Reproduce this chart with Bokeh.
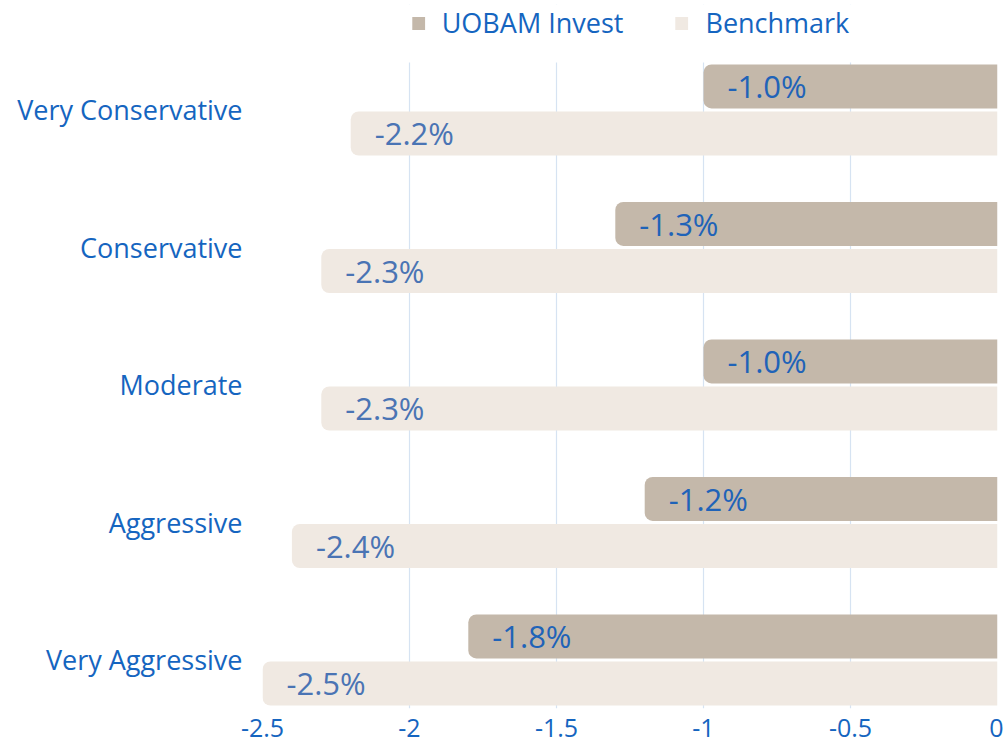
from bokeh.plotting import figure
from bokeh.models import (ColumnDataSource, Range1d, Legend, LegendItem, FixedTicker,
                          BoxAnnotation)
from bokeh.core.properties import value
from bokeh.embed import file_html
from bokeh.resources import INLINE

categories = ["Very Conservative", "Conservative", "Moderate", "Aggressive", "Very Aggressive"]
uobam = [-1.0, -1.3, -1.0, -1.2, -1.8]
benchmark = [-2.2, -2.3, -2.3, -2.4, -2.5]
x_ticks = [-2.5, -2.0, -1.5, -1.0, -0.5, 0.0]
x_tick_labels = ["-2.5", "-2", "-1.5", "-1", "-0.5", "0"]

FONT = "Open Sans"
BLUE = "#1565c0"
LBL_U = "#1f63b8"
LBL_B = "#4a74b4"
C_UOB = "#c4b8aa"
C_BEN = "#f0e9e2"

n = len(categories)
pos = [n - 1 - i for i in range(n)]   # first category at the top
OFF = 0.171   # half distance between the two bars of a group
H = 0.32      # bar thickness

src = ColumnDataSource(dict(
    pos=pos,
    y_u=[v + OFF for v in pos],
    y_b=[v - OFF for v in pos],
    uob=uobam,
    ben=benchmark,
    uob_lbl=[f"{v:.1f}%" for v in uobam],
    ben_lbl=[f"{v:.1f}%" for v in benchmark],
    zero=[0.0] * n,
))

p = figure(frame_width=735, frame_height=704,
           y_range=Range1d(-0.353, n - 1 + 0.767), x_range=Range1d(-2.5, 0),
           output_backend="svg", toolbar_location=None,
           min_border_left=262, min_border_right=6, min_border_top=4, min_border_bottom=36)

p.xgrid.grid_line_color = "#d6e3f2"
p.xgrid.grid_line_width = 1.2
p.ygrid.grid_line_color = None
p.outline_line_color = None

# white band hiding the grid lines above the first group (legend area)
p.add_layout(BoxAnnotation(bottom=n - 1 + 0.345, fill_color="white", fill_alpha=1.0,
                           line_color=None, level="underlay"))

r1 = p.hbar(y="y_u", left="uob", right="zero", height=H, source=src,
            fill_color=C_UOB, line_color=None, border_radius=(8, 0, 0, 8))
r2 = p.hbar(y="y_b", left="ben", right="zero", height=H, source=src,
            fill_color=C_BEN, line_color=None, border_radius=(8, 0, 0, 8))

p.text(x="uob", y="y_u", text="uob_lbl", source=src, x_offset=24,
       text_baseline="middle", text_align="left", text_font=value(FONT),
       text_font_size="31px", text_color=LBL_U)
p.text(x="ben", y="y_b", text="ben_lbl", source=src, x_offset=24,
       text_baseline="middle", text_align="left", text_font=value(FONT),
       text_font_size="31px", text_color=LBL_B)

p.xaxis.ticker = FixedTicker(ticks=x_ticks)
p.xaxis.major_label_overrides = {t: l for t, l in zip(x_ticks, x_tick_labels)}
p.yaxis.ticker = FixedTicker(ticks=pos)
p.yaxis.major_label_overrides = {pv: c for pv, c in zip(pos, categories)}
for ax in (p.xaxis, p.yaxis):
    ax.axis_line_color = None
    ax.major_tick_line_color = None
    ax.minor_tick_line_color = None
    ax.major_tick_out = 0
    ax.major_tick_in = 0
    ax.major_label_text_font = FONT
    ax.major_label_text_color = BLUE
p.xaxis.major_label_text_font_size = "25px"
p.xaxis.major_label_standoff = 10
p.yaxis.major_label_text_font_size = "27px"
p.yaxis.major_label_standoff = 20

legend = Legend(items=[LegendItem(label="UOBAM Invest", renderers=[r1]),
                       LegendItem(label="Benchmark", renderers=[r2])],
                orientation="horizontal", location="top_center",
                label_text_font=FONT, label_text_font_size="27px", label_text_color=BLUE,
                glyph_width=16, glyph_height=16, label_standoff=16, spacing=50,
                padding=0, margin=0, border_line_color=None, background_fill_alpha=0)
p.add_layout(legend, "center")

open("out.html", "w").write(file_html(p, INLINE))
